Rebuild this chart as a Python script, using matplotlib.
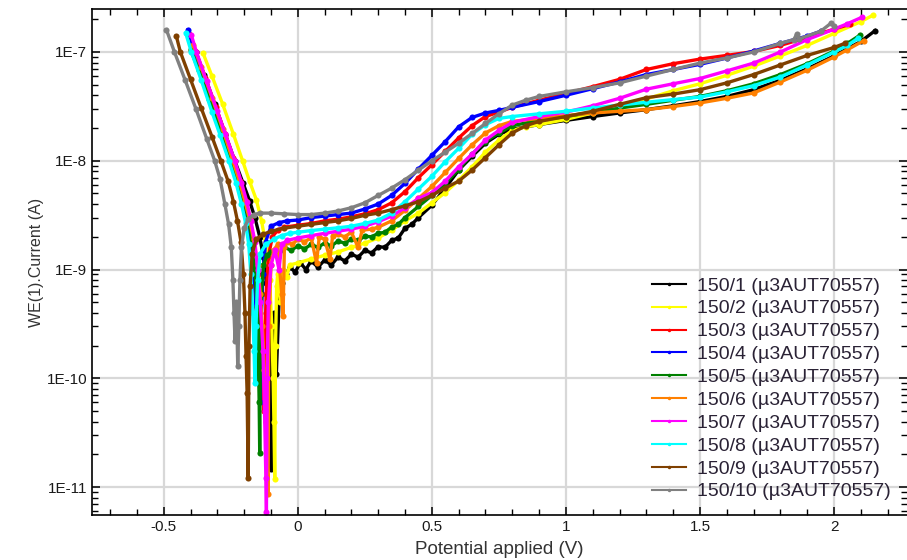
import matplotlib
matplotlib.use("Agg")
import matplotlib.pyplot as plt
import numpy as np
from matplotlib.ticker import FixedLocator, MultipleLocator, FuncFormatter, NullFormatter
from matplotlib.lines import Line2D

plt.rcParams['font.family'] = ['Liberation Sans', 'DejaVu Sans']

labels = ["150/1 (µ3AUT70557)", "150/2 (µ3AUT70557)", "150/3 (µ3AUT70557)",
          "150/4 (µ3AUT70557)", "150/5 (µ3AUT70557)", "150/6 (µ3AUT70557)",
          "150/7 (µ3AUT70557)", "150/8 (µ3AUT70557)", "150/9 (µ3AUT70557)",
          "150/10 (µ3AUT70557)"]
colors = ["#000000", "#ffff00", "#ff0000", "#0000ff", "#008000",
          "#ff8000", "#ff00ff", "#00ffff", "#7f4000", "#808080"]
x_ticks = [-0.5, 0, 0.5, 1, 1.5, 2]
x_tick_labels = ["-0.5", "0", "0.5", "1", "1.5", "2"]
y_ticks = [1e-11, 1e-10, 1e-9, 1e-8, 1e-7]
y_tick_labels = ["1E-11", "1E-10", "1E-9", "1E-8", "1E-7"]

# (potential V, current A)
s1 = [(-0.380, 1.0e-7), (-0.350, 6.2e-8), (-0.310, 3.3e-8), (-0.270, 1.74e-8), (-0.235, 1.0e-8),
      (-0.205, 6.3e-9), (-0.180, 4.3e-9), (-0.160, 3.0e-9), (-0.142, 2.0e-9), (-0.128, 1.3e-9),
      (-0.117, 7.5e-10), (-0.108, 3.5e-10), (-0.103, 1.5e-10), (-0.100, 1.45e-11), (-0.097, 1.8e-10),
      (-0.090, 4e-10), (-0.080, 1.1e-10), (-0.070, 5e-10), (-0.060, 7.5e-10), (-0.045, 9e-10),
      (-0.030, 1.05e-9), (-0.010, 9.5e-10), (0.010, 1.15e-9), (0.030, 1.0e-9), (0.050, 1.2e-9),
      (0.075, 1.05e-9), (0.100, 1.22e-9), (0.125, 1.1e-9), (0.150, 1.3e-9), (0.175, 1.2e-9),
      (0.200, 1.38e-9), (0.225, 1.3e-9), (0.250, 1.5e-9), (0.275, 1.42e-9), (0.300, 1.62e-9),
      (0.325, 1.6e-9), (0.350, 1.85e-9), (0.375, 1.95e-9), (0.400, 2.4e-9), (0.425, 2.6e-9),
      (0.450, 3.0e-9), (0.500, 3.9e-9), (0.550, 5.6e-9), (0.600, 8.2e-9), (0.650, 1.1e-8),
      (0.700, 1.45e-8), (0.750, 1.75e-8), (0.800, 1.95e-8), (0.900, 2.15e-8), (1.000, 2.35e-8),
      (1.100, 2.55e-8), (1.200, 2.75e-8), (1.300, 2.95e-8), (1.400, 3.2e-8), (1.500, 3.5e-8),
      (1.600, 3.9e-8), (1.700, 4.5e-8), (1.800, 5.5e-8), (1.900, 7.0e-8), (2.000, 9.2e-8),
      (2.100, 1.25e-7), (2.153, 1.57e-7)]
s2 = [(-0.353, 9.7e-8), (-0.320, 6.0e-8), (-0.280, 3.3e-8), (-0.240, 1.75e-8), (-0.206, 1.0e-8),
      (-0.180, 6.5e-9), (-0.155, 4.4e-9), (-0.135, 2.8e-9), (-0.118, 1.6e-9), (-0.105, 8e-10),
      (-0.097, 3e-10), (-0.092, 1e-10), (-0.089, 4e-11), (-0.086, 1.18e-11), (-0.083, 2e-10),
      (-0.079, 7e-10), (-0.075, 9e-10), (-0.065, 5e-10), (-0.055, 1.0e-9), (-0.042, 8.6e-10),
      (-0.030, 1.1e-9), (0.000, 1.15e-9), (0.050, 1.25e-9), (0.100, 1.35e-9), (0.150, 1.45e-9),
      (0.200, 1.6e-9), (0.250, 1.75e-9), (0.300, 1.95e-9), (0.350, 2.3e-9), (0.400, 2.8e-9),
      (0.450, 3.3e-9), (0.500, 4.1e-9), (0.550, 5.1e-9), (0.600, 6.6e-9), (0.650, 8.8e-9),
      (0.700, 1.2e-8), (0.750, 1.55e-8), (0.800, 1.9e-8), (0.850, 2.05e-8), (0.900, 2.15e-8),
      (1.000, 2.4e-8), (1.100, 2.75e-8), (1.200, 3.2e-8), (1.300, 3.7e-8), (1.400, 4.4e-8),
      (1.500, 5.1e-8), (1.600, 6.1e-8), (1.700, 7.4e-8), (1.800, 9.2e-8), (1.900, 1.15e-7),
      (2.000, 1.48e-7), (2.100, 1.9e-7), (2.147, 2.19e-7)]
s3 = [(-0.405, 1.45e-7), (-0.380, 1.0e-7), (-0.345, 5.8e-8), (-0.305, 3.1e-8), (-0.270, 1.75e-8),
      (-0.240, 1.05e-8), (-0.215, 6.5e-9), (-0.195, 4.3e-9), (-0.178, 2.9e-9), (-0.163, 1.8e-9),
      (-0.150, 9e-10), (-0.140, 4e-10), (-0.132, 1.5e-10), (-0.127, 5e-11), (-0.123, 2e-10),
      (-0.118, 6e-10), (-0.110, 1.3e-9), (-0.095, 2.0e-9), (-0.075, 2.3e-9), (-0.050, 2.45e-9),
      (0.000, 2.55e-9), (0.050, 2.65e-9), (0.100, 2.8e-9), (0.150, 2.9e-9), (0.200, 3.05e-9),
      (0.250, 3.25e-9), (0.300, 3.55e-9), (0.350, 4.1e-9), (0.400, 5.2e-9), (0.450, 7.0e-9),
      (0.500, 9.2e-9), (0.550, 1.22e-8), (0.600, 1.62e-8), (0.650, 2.1e-8), (0.700, 2.55e-8),
      (0.750, 2.8e-8), (0.800, 3.1e-8), (0.900, 3.6e-8), (1.000, 4.15e-8), (1.100, 4.8e-8),
      (1.200, 5.6e-8), (1.300, 6.9e-8), (1.400, 7.8e-8), (1.500, 8.6e-8), (1.600, 9.3e-8),
      (1.700, 1.01e-7), (1.800, 1.15e-7), (1.900, 1.36e-7), (2.000, 1.62e-7), (2.060, 1.8e-7)]
s4 = [(-0.409, 1.6e-7), (-0.385, 1.0e-7), (-0.350, 5.6e-8), (-0.310, 3.0e-8), (-0.280, 1.8e-8),
      (-0.245, 1.0e-8), (-0.220, 6.2e-9), (-0.200, 4.0e-9), (-0.185, 2.7e-9), (-0.172, 1.6e-9),
      (-0.162, 8e-10), (-0.152, 3e-10), (-0.145, 1.5e-10), (-0.141, 6e-11), (-0.137, 3e-10),
      (-0.130, 9e-10), (-0.120, 1.8e-9), (-0.100, 2.5e-9), (-0.070, 2.7e-9), (-0.040, 2.8e-9),
      (0.000, 2.85e-9), (0.050, 3.0e-9), (0.100, 3.1e-9), (0.150, 3.2e-9), (0.200, 3.3e-9),
      (0.250, 3.6e-9), (0.300, 4.0e-9), (0.350, 4.8e-9), (0.400, 6.2e-9), (0.450, 8.4e-9),
      (0.500, 1.12e-8), (0.550, 1.5e-8), (0.600, 2.05e-8), (0.650, 2.5e-8), (0.700, 2.75e-8),
      (0.750, 2.9e-8), (0.800, 3.1e-8), (0.900, 3.5e-8), (1.000, 4.0e-8), (1.100, 4.6e-8),
      (1.200, 5.3e-8), (1.300, 6.2e-8), (1.400, 6.9e-8), (1.500, 7.7e-8), (1.600, 8.8e-8),
      (1.700, 1.02e-7), (1.800, 1.2e-7), (1.900, 1.4e-7), (1.950, 1.55e-7)]
s5 = [(-0.400, 1.05e-7), (-0.370, 6.8e-8), (-0.330, 3.7e-8), (-0.290, 2.0e-8), (-0.250, 1.05e-8),
      (-0.222, 6.5e-9), (-0.200, 4.2e-9), (-0.183, 2.8e-9), (-0.170, 1.8e-9), (-0.160, 1.0e-9),
      (-0.152, 4.5e-10), (-0.147, 1.5e-10), (-0.144, 6e-11), (-0.142, 2.07e-11), (-0.140, 1.5e-10),
      (-0.136, 6e-10), (-0.128, 1.1e-9), (-0.115, 1.35e-9), (-0.100, 1.45e-9), (-0.075, 1.3e-9),
      (-0.050, 1.6e-9), (-0.025, 1.5e-9), (0.000, 1.65e-9), (0.025, 1.55e-9), (0.050, 1.7e-9),
      (0.075, 1.6e-9), (0.100, 1.75e-9), (0.125, 1.65e-9), (0.150, 1.82e-9), (0.175, 1.75e-9),
      (0.200, 1.9e-9), (0.225, 1.85e-9), (0.250, 2.02e-9), (0.275, 2.0e-9), (0.300, 2.15e-9),
      (0.325, 2.2e-9), (0.350, 2.45e-9), (0.375, 2.6e-9), (0.400, 3.0e-9), (0.450, 3.8e-9),
      (0.500, 4.8e-9), (0.550, 6.2e-9), (0.600, 8.3e-9), (0.650, 1.15e-8), (0.700, 1.5e-8),
      (0.750, 1.8e-8), (0.800, 2.1e-8), (0.900, 2.35e-8), (1.000, 2.55e-8), (1.100, 2.8e-8),
      (1.200, 3.05e-8), (1.300, 3.3e-8), (1.400, 3.6e-8), (1.500, 3.9e-8), (1.600, 4.4e-8),
      (1.700, 5.1e-8), (1.800, 6.2e-8), (1.900, 7.8e-8), (2.000, 1.02e-7), (2.050, 1.2e-7),
      (2.097, 1.43e-7)]
s6 = [(-0.390, 1.15e-7), (-0.360, 7.2e-8), (-0.320, 3.8e-8), (-0.280, 1.95e-8), (-0.245, 1.05e-8),
      (-0.218, 6.5e-9), (-0.198, 4.3e-9), (-0.180, 2.9e-9), (-0.165, 1.9e-9), (-0.150, 1.1e-9),
      (-0.140, 6e-10), (-0.132, 3e-10), (-0.125, 1.2e-10), (-0.118, 4e-11), (-0.111, 8.7e-12),
      (-0.108, 3e-10), (-0.100, 1.1e-9), (-0.090, 1.5e-9), (-0.075, 1.7e-9), (-0.060, 6e-10),
      (-0.055, 3.7e-10), (-0.050, 1.6e-9), (-0.040, 1.8e-9), (-0.020, 1.7e-9), (0.000, 1.9e-9),
      (0.025, 1.8e-9), (0.050, 1.95e-9), (0.070, 1.15e-9), (0.080, 2.0e-9), (0.100, 1.9e-9),
      (0.120, 1.25e-9), (0.130, 2.05e-9), (0.150, 2.1e-9), (0.175, 2.0e-9), (0.200, 2.2e-9),
      (0.225, 1.6e-9), (0.240, 2.3e-9), (0.275, 2.35e-9), (0.300, 2.45e-9), (0.350, 2.8e-9),
      (0.400, 3.5e-9), (0.450, 4.5e-9), (0.500, 5.8e-9), (0.550, 7.8e-9), (0.600, 1.05e-8),
      (0.650, 1.4e-8), (0.700, 1.8e-8), (0.750, 2.1e-8), (0.800, 2.3e-8), (0.900, 2.45e-8),
      (1.000, 2.6e-8), (1.100, 2.75e-8), (1.200, 2.85e-8), (1.300, 2.95e-8), (1.400, 3.15e-8),
      (1.500, 3.4e-8), (1.600, 3.75e-8), (1.700, 4.2e-8), (1.800, 5.3e-8), (1.900, 6.8e-8),
      (2.000, 9.0e-8), (2.050, 1.05e-7), (2.110, 1.27e-7)]
s7 = [(-0.397, 1.43e-7), (-0.378, 1.0e-7), (-0.340, 5.4e-8), (-0.300, 2.85e-8), (-0.270, 1.76e-8),
      (-0.235, 1.0e-8), (-0.210, 6.3e-9), (-0.190, 4.2e-9), (-0.175, 2.8e-9), (-0.160, 1.8e-9),
      (-0.150, 1.0e-9), (-0.140, 5e-10), (-0.130, 1.8e-10), (-0.124, 5e-11), (-0.119, 1.2e-11),
      (-0.117, 5.9e-12), (-0.114, 1e-10), (-0.110, 5e-10), (-0.100, 1.1e-9), (-0.085, 1.5e-9),
      (-0.070, 1.0e-9), (-0.060, 1.7e-9), (-0.040, 1.85e-9), (0.000, 1.95e-9), (0.050, 2.05e-9),
      (0.100, 2.15e-9), (0.150, 2.25e-9), (0.200, 2.35e-9), (0.250, 2.5e-9), (0.300, 2.75e-9),
      (0.350, 3.1e-9), (0.400, 3.7e-9), (0.450, 4.5e-9), (0.500, 5.1e-9), (0.550, 6.5e-9),
      (0.600, 8.8e-9), (0.650, 1.15e-8), (0.700, 1.55e-8), (0.750, 1.9e-8), (0.800, 2.25e-8),
      (0.900, 2.55e-8), (1.000, 2.8e-8), (1.100, 3.2e-8), (1.200, 3.75e-8), (1.300, 4.55e-8),
      (1.400, 5.1e-8), (1.500, 5.7e-8), (1.600, 6.7e-8), (1.700, 7.9e-8), (1.800, 1.0e-7),
      (1.900, 1.3e-7), (2.000, 1.62e-7), (2.050, 1.82e-7), (2.103, 2.08e-7)]
s8 = [(-0.418, 1.49e-7), (-0.397, 1.0e-7), (-0.360, 5.5e-8), (-0.320, 2.8e-8), (-0.290, 1.73e-8),
      (-0.257, 1.0e-8), (-0.230, 6.2e-9), (-0.210, 4.0e-9), (-0.195, 2.7e-9), (-0.183, 1.7e-9),
      (-0.175, 9e-10), (-0.168, 4e-10), (-0.163, 1.8e-10), (-0.160, 9e-11), (-0.156, 3e-10),
      (-0.150, 8e-10), (-0.140, 1.4e-9), (-0.120, 1.7e-9), (-0.090, 1.9e-9), (-0.060, 2.05e-9),
      (-0.030, 2.15e-9), (0.000, 2.2e-9), (0.050, 2.28e-9), (0.100, 2.35e-9), (0.150, 2.42e-9),
      (0.200, 2.5e-9), (0.250, 2.65e-9), (0.300, 2.85e-9), (0.350, 3.3e-9), (0.400, 4.2e-9),
      (0.450, 5.5e-9), (0.500, 7.2e-9), (0.550, 9.8e-9), (0.600, 1.3e-8), (0.650, 1.75e-8),
      (0.700, 2.15e-8), (0.750, 2.45e-8), (0.800, 2.55e-8), (0.900, 2.7e-8), (1.000, 2.85e-8),
      (1.100, 3.05e-8), (1.200, 3.25e-8), (1.300, 3.45e-8), (1.400, 3.65e-8), (1.500, 3.85e-8),
      (1.600, 4.3e-8), (1.700, 4.9e-8), (1.800, 5.9e-8), (1.900, 7.6e-8), (2.000, 1.0e-7),
      (2.050, 1.15e-7), (2.090, 1.34e-7)]
s9 = [(-0.453, 1.4e-7), (-0.438, 1.0e-7), (-0.400, 5.6e-8), (-0.360, 3.04e-8), (-0.320, 1.66e-8),
      (-0.287, 1.0e-8), (-0.260, 6.5e-9), (-0.240, 4.2e-9), (-0.225, 2.8e-9), (-0.212, 1.8e-9),
      (-0.203, 9e-10), (-0.197, 4e-10), (-0.193, 1.6e-10), (-0.189, 7.3e-11), (-0.185, 1.2e-11),
      (-0.182, 2e-10), (-0.178, 7e-10), (-0.170, 1.4e-9), (-0.155, 1.9e-9), (-0.130, 2.1e-9),
      (-0.100, 2.25e-9), (-0.050, 2.4e-9), (0.000, 2.5e-9), (0.050, 2.6e-9), (0.100, 2.7e-9),
      (0.150, 2.8e-9), (0.200, 2.95e-9), (0.250, 3.15e-9), (0.300, 3.3e-9), (0.350, 3.55e-9),
      (0.400, 3.85e-9), (0.450, 4.2e-9), (0.500, 4.8e-9), (0.550, 5.6e-9), (0.600, 6.5e-9),
      (0.650, 8.2e-9), (0.700, 1.07e-8), (0.750, 1.4e-8), (0.800, 1.8e-8), (0.850, 2.1e-8),
      (0.900, 2.3e-8), (1.000, 2.55e-8), (1.100, 2.85e-8), (1.200, 3.3e-8), (1.300, 3.8e-8),
      (1.400, 4.1e-8), (1.500, 4.5e-8), (1.600, 5.2e-8), (1.700, 6.2e-8), (1.800, 7.6e-8),
      (1.900, 9.3e-8), (2.000, 1.1e-7), (2.040, 1.2e-7)]
s10 = [(-0.490, 1.6e-7), (-0.460, 1.0e-7), (-0.420, 5.5e-8), (-0.380, 3.0e-8), (-0.340, 1.6e-8),
       (-0.310, 1.0e-8), (-0.290, 6.8e-9), (-0.272, 4.0e-9), (-0.258, 2.6e-9), (-0.248, 1.6e-9),
       (-0.242, 8e-10), (-0.238, 4e-10), (-0.234, 2.2e-10), (-0.229, 5e-10), (-0.224, 1.3e-10),
       (-0.220, 3e-10), (-0.216, 8e-10), (-0.210, 1.6e-9), (-0.200, 2.4e-9), (-0.185, 2.9e-9),
       (-0.165, 3.2e-9), (-0.140, 3.3e-9), (-0.100, 3.3e-9), (-0.050, 3.25e-9), (0.000, 3.2e-9),
       (0.050, 3.2e-9), (0.100, 3.3e-9), (0.150, 3.45e-9), (0.200, 3.7e-9), (0.250, 4.1e-9),
       (0.300, 4.8e-9), (0.350, 5.6e-9), (0.400, 6.7e-9), (0.450, 8.2e-9), (0.500, 1.0e-8),
       (0.550, 1.2e-8), (0.600, 1.45e-8), (0.650, 1.78e-8), (0.700, 2.2e-8), (0.750, 2.7e-8),
       (0.800, 3.25e-8), (0.850, 3.6e-8), (0.900, 3.9e-8), (1.000, 4.3e-8), (1.100, 4.7e-8),
       (1.200, 5.2e-8), (1.300, 6.0e-8), (1.400, 6.9e-8), (1.500, 7.9e-8), (1.600, 8.8e-8),
       (1.700, 1.0e-7), (1.800, 1.2e-7), (1.850, 1.3e-7), (1.860, 1.45e-7), (1.870, 1.32e-7),
       (1.950, 1.55e-7), (1.990, 1.85e-7), (2.000, 1.72e-7)]

series = [s1, s2, s3, s4, s5, s6, s7, s8, s9, s10]

fig = plt.figure(figsize=(9.07, 5.60), dpi=100)
ax = fig.add_axes([92 / 907, 1 - 515 / 560, 1 - 92 / 907, (515 - 9) / 560])

for pts, col, lab in zip(series, colors, labels):
    e = [p[0] for p in pts]
    i = [p[1] for p in pts]
    ax.plot(e, i, color=col, lw=2.4, marker='o', ms=4.4, mew=0, label=lab)

ax.set_yscale('log')
ax.set_xlim(-0.7675, 2.272)
ax.set_ylim(10 ** -11.257, 10 ** -6.605)

ax.set_xticks(x_ticks)
ax.set_xticklabels(x_tick_labels)
ax.xaxis.set_minor_locator(MultipleLocator(0.1))
ax.set_yticks(y_ticks)
ax.set_yticklabels(y_tick_labels)
minor_y = [m * 10.0 ** k for k in range(-12, -6) for m in range(2, 10)]
minor_y = [v for v in minor_y if 10 ** -11.257 <= v <= 10 ** -6.605]
ax.yaxis.set_minor_locator(FixedLocator(minor_y))
ax.yaxis.set_minor_formatter(NullFormatter())

ax.grid(True, which='major', color='#d8d8d8', lw=1.6)
ax.set_axisbelow(True)
for side in ['left', 'bottom', 'top']:
    ax.spines[side].set_linewidth(1.2)
    ax.spines[side].set_color('#000000')
ax.spines['right'].set_visible(False)
ax.tick_params(which='both', direction='in', top=True, right=True, colors='#000000',
               labelsize=11, labelcolor='#1a1a1a')
ax.tick_params(which='major', length=6, width=1.1)
ax.tick_params(which='minor', length=4, width=1.0)

ax.set_xlabel("Potential applied (V)", fontsize=13.5, color='#333333', labelpad=5)
ax.set_ylabel("WE(1).Current (A)", fontsize=11.5, color='#333333', labelpad=2)

handles = [Line2D([0], [0], color=c, lw=1.5, marker='o', ms=2.5, mew=0) for c in colors]
leg = fig.legend(handles, labels, loc='upper left', bbox_to_anchor=(652 / 907, 1 - 277 / 560),
                 frameon=False, fontsize=14, handlelength=1.75, handletextpad=0.55,
                 labelspacing=0.27, borderaxespad=0.0, borderpad=0.0, numpoints=1)
for t in leg.get_texts():
    t.set_color('#2a2235')

fig.savefig("out.png", dpi=100)
